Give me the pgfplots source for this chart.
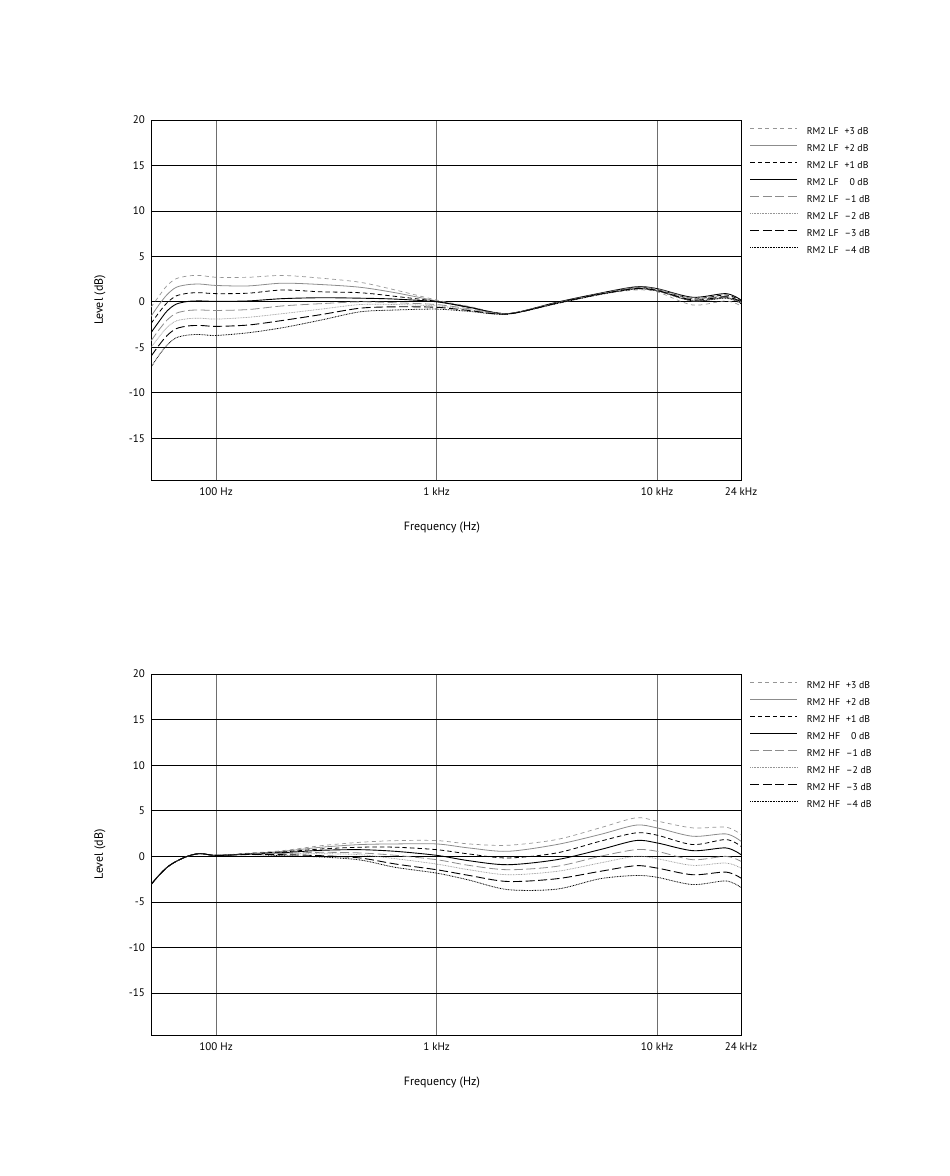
\documentclass[border=0pt]{standalone}
\usepackage{fontspec}
\setmainfont{PT Sans}
\usepackage{pgfplots}
\usepackage{pgfplotstable}
\pgfplotsset{compat=1.18}

\definecolor{cg}{RGB}{140,140,140}
\definecolor{cgl}{RGB}{150,150,150}
\definecolor{cgrid}{RGB}{110,110,110}

\pgfplotstableread{
f      p3    p2    p1    z     m1    m2    m3    m4
50.7  -0.6  -1.6  -2.4  -3.4  -4.3  -5.0  -6.0  -7.2
55     0.6  -0.35 -1.2  -2.2  -3.1  -3.9  -4.8  -5.9
60     1.8   0.8  -0.1  -1.0  -2.0  -2.8  -3.7  -4.75
66     2.55  1.6   0.65 -0.25 -1.25 -2.1  -2.95 -3.95
75     2.85  1.9   0.95  0.05 -0.95 -1.85 -2.65 -3.65
85     2.9   1.95  1.0   0.1  -0.9  -1.8  -2.6  -3.6
100    2.7   1.8   0.9   0.05 -0.95 -1.9  -2.7  -3.7
140    2.7   1.75  0.95  0.1  -0.85 -1.7  -2.55 -3.4
200    2.9   2.05  1.3   0.35 -0.45 -1.3  -2.05 -2.85
300    2.6   1.9   1.1   0.45 -0.2  -0.8  -1.4  -2.0
450    2.15  1.6   1.0   0.4   0.0  -0.3  -0.7  -1.1
650    1.3   1.0   0.6   0.3  -0.1  -0.3  -0.55 -0.9
1000   0.2   0.1   0.05  0.0  -0.3  -0.45 -0.6  -0.8
1400  -0.5  -0.55 -0.6  -0.6  -0.75 -0.85 -0.95 -1.05
2100  -1.3  -1.3  -1.3  -1.3  -1.3  -1.35 -1.35 -1.35
3500  -0.2  -0.15 -0.1  -0.05 -0.1  -0.15 -0.15 -0.2
5500   0.8   0.85  0.9   0.95  0.9   0.85  0.85  0.8
8000   1.3   1.45  1.55  1.65  1.6   1.5   1.45  1.4
10000  1.1   1.25  1.35  1.45  1.4   1.3   1.25  1.2
14500 -0.35  0.1   0.35  0.5   0.4   0.3   0.2   0.1
20500  0.1   0.45  0.75  0.9   0.6   0.5   0.55  0.4
24000 -0.45 -0.1   0.1   0.2   0.0  -0.1   0.0  -0.2
}\tlf

\pgfplotstableread{
f      p3    p2    p1    z     m1    m2    m3    m4
50.7  -3.1  -3.1  -3.1  -3.1  -3.1  -3.1  -3.1  -3.1
55    -2.1  -2.1  -2.1  -2.1  -2.1  -2.1  -2.1  -2.1
60    -1.2  -1.2  -1.2  -1.2  -1.2  -1.2  -1.2  -1.2
66    -0.55 -0.55 -0.55 -0.55 -0.55 -0.55 -0.55 -0.55
75     0.05  0.05  0.05  0.05  0.05  0.05  0.05  0.05
85     0.3   0.3   0.3   0.3   0.3   0.3   0.3   0.3
100    0.1   0.1   0.1   0.1   0.1   0.1   0.1   0.1
140    0.35  0.3   0.3   0.25  0.25  0.25  0.2   0.2
200    0.62  0.55  0.48  0.4   0.32  0.28  0.18  0.07
300    1.17  1.0   0.81  0.66  0.44  0.29  0.07 -0.07
450    1.54  1.29  1.0   0.73  0.37  0.18 -0.18 -0.4
650    1.72  1.36  1.0   0.55  0.11 -0.26 -0.84 -1.21
1000   1.73  1.36  0.73  0.11 -0.37 -0.85 -1.47 -1.84
1400   1.36  0.92  0.26 -0.48 -0.99 -1.47 -2.09 -2.6
2100   1.21  0.55 -0.18 -0.92 -1.47 -2.02 -2.76 -3.65
3500   1.84  1.29  0.37 -0.37 -1.1  -1.65 -2.46 -3.6
5500   3.12  2.39  1.65  0.73  0.0  -0.73 -1.65 -2.46
8000   4.22  3.42  2.57  1.73  0.73  0.0  -1.03 -2.1
10000  3.86  3.12  2.32  1.47  0.55 -0.26 -1.29 -2.3
14500  3.12  2.2   1.29  0.62 -0.37 -0.99 -2.02 -3.1
20500  3.2   2.46  1.84  0.92  0.0  -0.73 -1.73 -2.7
24000  2.39  1.65  1.1   0.18 -0.55 -1.29 -2.39 -3.42
}\thf

\tikzset{
  sp3/.style={cgl, line width=0.7pt, dash pattern=on 4pt off 3.5pt},
  sp2/.style={cg, line width=0.8pt},
  sp1/.style={black, line width=0.8pt, dash pattern=on 4.5pt off 3pt},
  sz/.style={black, line width=0.9pt},
  sm1/.style={cg, line width=0.8pt, dash pattern=on 9pt off 3.5pt},
  sm2/.style={cgl, line width=0.7pt, dash pattern=on 0.8pt off 0.8pt},
  sm3/.style={black, line width=0.9pt, dash pattern=on 9pt off 3.5pt},
  sm4/.style={black, line width=0.8pt, dash pattern=on 0.8pt off 0.8pt},
}

\begin{document}
\begin{tikzpicture}
\path[use as bounding box] (0pt,0pt) rectangle (950pt,-1176pt);

\begin{axis}[
    height=360pt, at={(151pt,-120pt)}, anchor=north west,
    scale only axis, width=590pt,
    xmode=log, xmin=50.7, xmax=24000, ymin=-19.6, ymax=20,
    xtick={100,1000,10000,24000},
    xticklabels={100 Hz,1 kHz,10 kHz,24 kHz},
    minor xtick={},
    ytick={-15,-10,-5,0,5,10,15,20},
    yticklabels={-15,-10,-5,0,5,10,15,20},
    major tick length=0pt,
    axis line style={black, line width=0.8pt},
    xmajorgrids, ymajorgrids,
    x grid style={cgrid, line width=0.6pt},
    y grid style={black, line width=0.7pt},
    tick label style={font=\fontsize{11}{13}\selectfont},
    xticklabel style={yshift=-4pt},
    yticklabel style={xshift=-2.7pt},
    label style={font=\fontsize{12}{14}\selectfont},
    xlabel={Frequency (Hz)},
    ylabel={Level (dB)},
    xlabel style={at={(rel axis cs:0.493,0)}, anchor=center, yshift=-48pt},
    ylabel style={at={(rel axis cs:0,0.5)}, anchor=center, yshift=51pt},
    legend style={at={(rel axis cs:1,1)}, anchor=north west,
      xshift=9pt, yshift=-7.1pt, draw=none, fill=none, inner sep=0pt, outer sep=0pt,
      row sep=8.04pt, column sep=9pt,
      font=\fontsize{9.8}{11}\selectfont,
      nodes={inner sep=0pt, outer sep=0pt, text height=7pt, text depth=2pt}},
    legend cell align=left,
    legend image code/.code={\draw[#1] (0pt,3.4pt) -- (47pt,3.4pt);},
  ]
\addplot[sp3, smooth] table[x=f,y=p3]{\tlf}; \addlegendentry{RM2 LF\hspace{6pt}+3 dB}
\addplot[sp2, smooth] table[x=f,y=p2]{\tlf}; \addlegendentry{RM2 LF\hspace{6pt}+2 dB}
\addplot[sp1, smooth] table[x=f,y=p1]{\tlf}; \addlegendentry{RM2 LF\hspace{6pt}+1 dB}
\addplot[sz, smooth]  table[x=f,y=z]{\tlf};  \addlegendentry{RM2 LF\hspace{6pt}\phantom{+}0 dB}
\addplot[sm1, smooth] table[x=f,y=m1]{\tlf}; \addlegendentry{RM2 LF\hspace{6pt}--1 dB}
\addplot[sm2, smooth] table[x=f,y=m2]{\tlf}; \addlegendentry{RM2 LF\hspace{6pt}--2 dB}
\addplot[sm3, smooth] table[x=f,y=m3]{\tlf}; \addlegendentry{RM2 LF\hspace{6pt}--3 dB}
\addplot[sm4, smooth] table[x=f,y=m4]{\tlf}; \addlegendentry{RM2 LF\hspace{6pt}--4 dB}
\end{axis}

\begin{axis}[
    height=361pt, at={(151pt,-674pt)}, anchor=north west,
    scale only axis, width=590pt,
    xmode=log, xmin=50.7, xmax=24000, ymin=-19.6, ymax=20,
    xtick={100,1000,10000,24000},
    xticklabels={100 Hz,1 kHz,10 kHz,24 kHz},
    minor xtick={},
    ytick={-15,-10,-5,0,5,10,15,20},
    yticklabels={-15,-10,-5,0,5,10,15,20},
    major tick length=0pt,
    axis line style={black, line width=0.8pt},
    xmajorgrids, ymajorgrids,
    x grid style={cgrid, line width=0.6pt},
    y grid style={black, line width=0.7pt},
    tick label style={font=\fontsize{11}{13}\selectfont},
    xticklabel style={yshift=-4pt},
    yticklabel style={xshift=-2.7pt},
    label style={font=\fontsize{12}{14}\selectfont},
    xlabel={Frequency (Hz)},
    ylabel={Level (dB)},
    xlabel style={at={(rel axis cs:0.493,0)}, anchor=center, yshift=-48pt},
    ylabel style={at={(rel axis cs:0,0.5)}, anchor=center, yshift=51pt},
    legend style={at={(rel axis cs:1,1)}, anchor=north west,
      xshift=9pt, yshift=-7.1pt, draw=none, fill=none, inner sep=0pt, outer sep=0pt,
      row sep=8.04pt, column sep=9pt,
      font=\fontsize{9.8}{11}\selectfont,
      nodes={inner sep=0pt, outer sep=0pt, text height=7pt, text depth=2pt}},
    legend cell align=left,
    legend image code/.code={\draw[#1] (0pt,3.4pt) -- (47pt,3.4pt);},
  ]
\addplot[sp3, smooth] table[x=f,y=p3]{\thf}; \addlegendentry{RM2 HF\hspace{6pt}+3 dB}
\addplot[sp2, smooth] table[x=f,y=p2]{\thf}; \addlegendentry{RM2 HF\hspace{6pt}+2 dB}
\addplot[sp1, smooth] table[x=f,y=p1]{\thf}; \addlegendentry{RM2 HF\hspace{6pt}+1 dB}
\addplot[sz, smooth]  table[x=f,y=z]{\thf};  \addlegendentry{RM2 HF\hspace{6pt}\phantom{+}0 dB}
\addplot[sm1, smooth] table[x=f,y=m1]{\thf}; \addlegendentry{RM2 HF\hspace{6pt}--1 dB}
\addplot[sm2, smooth] table[x=f,y=m2]{\thf}; \addlegendentry{RM2 HF\hspace{6pt}--2 dB}
\addplot[sm3, smooth] table[x=f,y=m3]{\thf}; \addlegendentry{RM2 HF\hspace{6pt}--3 dB}
\addplot[sm4, smooth] table[x=f,y=m4]{\thf}; \addlegendentry{RM2 HF\hspace{6pt}--4 dB}
\end{axis}
\end{tikzpicture}
\end{document}
